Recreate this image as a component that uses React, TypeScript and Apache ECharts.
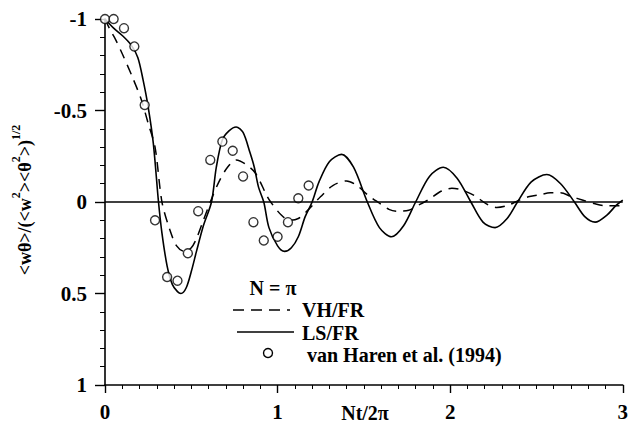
import React, { useEffect, useRef } from "react";
import * as echarts from "echarts";

// LS/FR (solid)
const lsX = [0, 0.05, 0.10, 0.15, 0.19, 0.22, 0.25, 0.28, 0.31, 0.33, 0.36, 0.39, 0.42, 0.44, 0.47, 0.50, 0.53, 0.57, 0.617, 0.645, 0.68, 0.72, 0.76, 0.80, 0.84, 0.865, 0.89, 0.92, 0.95, 1.00, 1.04, 1.08, 1.12, 1.16, 1.20, 1.24, 1.30, 1.37, 1.44, 1.52, 1.59, 1.66, 1.73, 1.80, 1.88, 1.96, 2.04, 2.12, 2.19, 2.26, 2.33, 2.39, 2.47, 2.56, 2.64, 2.72, 2.78, 2.84, 2.91, 2.96, 3.0];
const lsY = [-1, -0.95, -0.91, -0.86, -0.79, -0.67, -0.52, -0.32, 0, 0.17, 0.35, 0.45, 0.49, 0.50, 0.47, 0.38, 0.27, 0.13, 0, -0.19, -0.34, -0.39, -0.41, -0.38, -0.27, -0.19, -0.08, 0, 0.14, 0.24, 0.27, 0.25, 0.19, 0.08, 0, -0.11, -0.22, -0.26, -0.19, 0, 0.14, 0.19, 0.13, 0, -0.14, -0.19, -0.13, 0, 0.11, 0.14, 0.09, 0, -0.11, -0.15, -0.10, 0, 0.08, 0.11, 0.07, 0.02, -0.01];

// VH/FR (dashed)
const vhX = [0, 0.03, 0.06, 0.10, 0.16, 0.21, 0.25, 0.29, 0.33, 0.375, 0.415, 0.46, 0.50, 0.53, 0.57, 0.61, 0.66, 0.71, 0.76, 0.81, 0.87, 0.94, 0.96, 1.02, 1.07, 1.12, 1.17, 1.25, 1.32, 1.40, 1.46, 1.52, 1.58, 1.645, 1.69, 1.76, 1.83, 1.87, 1.95, 2.01, 2.07, 2.14, 2.21, 2.27, 2.33, 2.40, 2.46, 2.52, 2.58, 2.64, 2.70, 2.77, 2.84, 2.90, 2.97, 3.0];
const vhY = [-1, -0.94, -0.89, -0.81, -0.68, -0.56, -0.43, -0.30, 0, 0.15, 0.24, 0.27, 0.25, 0.20, 0.10, 0, -0.11, -0.19, -0.23, -0.21, -0.16, -0.03, 0, 0.07, 0.10, 0.09, 0.05, -0.03, -0.09, -0.115, -0.09, -0.04, 0, 0.04, 0.05, 0.045, 0.01, -0.01, -0.06, -0.075, -0.065, -0.035, 0.01, 0.03, 0.02, -0.01, -0.03, -0.04, -0.05, -0.05, -0.03, -0.01, 0.01, 0.02, 0.02, 0.02];

// van Haren et al. (1994) observations
const obsX = [0, 0.05, 0.11, 0.17, 0.23, 0.29, 0.36, 0.42, 0.48, 0.54, 0.61, 0.68, 0.74, 0.80, 0.86, 0.92, 1.00, 1.06, 1.12, 1.18];
const obsY = [-1, -1, -0.95, -0.85, -0.53, 0.10, 0.41, 0.43, 0.28, 0.05, -0.23, -0.33, -0.28, -0.14, 0.11, 0.21, 0.19, 0.11, -0.02, -0.09];

const xTickLabels = ["0", "1", "2", "3"];
const yTickLabels = ["-1", "-0.5", "0", "0.5", "1"];

const legendTitle = "N = π";
const legendNames = ["VH/FR", "LS/FR", "van Haren et al. (1994)"];
const xName = "Nt/2π";

const FONT = "Liberation Serif, Times New Roman, serif";

const zip = (xs: number[], ys: number[]) => xs.map((x, i) => [x, ys[i]]);

export default function App() {
  const ref = useRef<HTMLDivElement>(null);
  useEffect(() => {
    document.body.style.margin = "0";
    if (!ref.current) return;
    const chart = echarts.init(ref.current, undefined, { renderer: "svg" });
    const axisLine = { show: true, lineStyle: { color: "#000", width: 1.6 } };
    const txt = { fontFamily: FONT, fontSize: 20, fontWeight: "bold", fill: "#000" };
    const option: any = {
      animation: false,
      backgroundColor: "#fff",
      textStyle: { fontFamily: FONT },
      grid: { left: 105, right: 6, top: 19, bottom: 40, containLabel: false },
      xAxis: {
        type: "value",
        min: 0,
        max: 3,
        interval: 1,
        axisLine: { ...axisLine, onZero: false },
        axisTick: { show: true, inside: false, length: 8, lineStyle: { color: "#000", width: 1.4 } },
        minorTick: { show: true, splitNumber: 10, length: 4, lineStyle: { color: "#000", width: 1 } },
        splitLine: { show: false },
        minorSplitLine: { show: false },
        axisLabel: {
          margin: 16,
          color: "#000",
          fontFamily: FONT,
          fontSize: 21,
          fontWeight: "bold",
          formatter: (v: number) => xTickLabels[Math.round(v)] ?? "",
        },
      },
      yAxis: {
        type: "value",
        inverse: true,
        min: -1,
        max: 1,
        interval: 0.5,
        axisLine: { ...axisLine, onZero: false },
        axisTick: { show: true, inside: false, length: 10, lineStyle: { color: "#000", width: 1.4 } },
        minorTick: { show: true, splitNumber: 5, length: 5, lineStyle: { color: "#000", width: 1 } },
        splitLine: { show: false },
        minorSplitLine: { show: false },
        axisLabel: {
          margin: 18,
          color: "#000",
          fontFamily: FONT,
          fontSize: 21,
          fontWeight: "bold",
          formatter: (v: number) => yTickLabels[Math.round((v + 1) * 2)] ?? "",
        },
      },
      series: [
        {
          name: legendNames[1],
          type: "line",
          data: zip(lsX, lsY),
          smooth: 0.3,
          showSymbol: false,
          symbol: "none",
          lineStyle: { color: "#000", width: 1.6, type: "solid" },
          markLine: {
            silent: true,
            symbol: "none",
            label: { show: false },
            lineStyle: { color: "#000", width: 1.6, type: "solid" },
            data: [{ yAxis: 0 }],
          },
          z: 3,
        },
        {
          name: legendNames[0],
          type: "line",
          data: zip(vhX, vhY),
          smooth: 0.3,
          showSymbol: false,
          symbol: "none",
          lineStyle: { color: "#000", width: 1.5, type: [10, 7] },
          z: 2,
        },
        {
          name: legendNames[2],
          type: "scatter",
          data: zip(obsX, obsY),
          symbol: "circle",
          symbolSize: 9,
          itemStyle: { color: "#fff", borderColor: "#000", borderWidth: 1.4 },
          z: 4,
        },
      ],
      graphic: [
        {
          type: "text",
          x: 22,
          y: 200,
          rotation: Math.PI / 2,
          style: {
            text: "{a|<wθ>/(<w}{s|2}{a|><θ}{s|2}{a|>)}{s|1/2}",
            align: "center",
            verticalAlign: "middle",
            fill: "#000",
            rich: {
              a: { fontFamily: FONT, fontSize: 18, fontWeight: "bold", lineHeight: 24, verticalAlign: "bottom", fill: "#000" },
              s: { fontFamily: FONT, fontSize: 12, fontWeight: "bold", lineHeight: 13, verticalAlign: "top", fill: "#000" },
            },
          },
        },
        {
          type: "text",
          x: 365,
          y: 413,
          style: { ...txt, text: xName, align: "center", verticalAlign: "middle" },
        },
        {
          type: "text",
          x: 273,
          y: 288,
          style: { ...txt, text: legendTitle, align: "center", verticalAlign: "middle" },
        },
        {
          type: "line",
          shape: { x1: 233, y1: 310, x2: 290, y2: 310 },
          style: { stroke: "#000", lineWidth: 1.5, lineDash: [11, 7] },
        },
        {
          type: "text",
          x: 302,
          y: 310,
          style: { ...txt, text: legendNames[0], align: "left", verticalAlign: "middle" },
        },
        {
          type: "line",
          shape: { x1: 237, y1: 332, x2: 294, y2: 332 },
          style: { stroke: "#000", lineWidth: 1.5 },
        },
        {
          type: "text",
          x: 302,
          y: 333,
          style: { ...txt, text: legendNames[1], align: "left", verticalAlign: "middle" },
        },
        {
          type: "circle",
          shape: { cx: 268, cy: 353, r: 4.5 },
          style: { fill: "#fff", stroke: "#000", lineWidth: 1.4 },
        },
        {
          type: "text",
          x: 307,
          y: 355,
          style: { ...txt, text: legendNames[2], align: "left", verticalAlign: "middle" },
        },
      ],
    };
    chart.setOption(option);
    return () => chart.dispose();
  }, []);
  return <div ref={ref} style={{ width: 631, height: 425 }} />;
}
